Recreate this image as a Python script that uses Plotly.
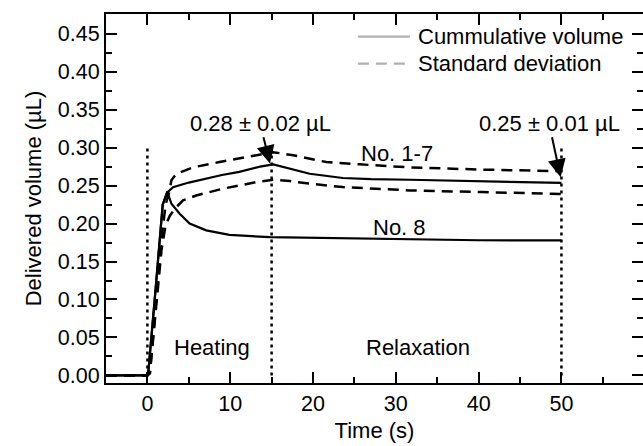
import plotly.graph_objects as go

# ---- data ----
t_mean = [-5, 0, 0.1, 0.5, 1.0, 1.5, 1.85, 2.4, 3.1, 5.0, 7.1, 9.0, 11.1, 13.6, 15.2, 17.2, 19.6, 23.6, 27.0, 31.7, 40.0, 50.0]
v_mean = [0, 0, 0.003, 0.05, 0.115, 0.18, 0.225, 0.241, 0.248, 0.254, 0.259, 0.264, 0.268, 0.275, 0.278, 0.272, 0.2656, 0.260, 0.2585, 0.2577, 0.2555, 0.2535]

t_no8 = [-5, 0, 0.1, 0.5, 1.0, 1.5, 1.85, 2.4, 2.9, 3.9, 5.1, 7.1, 9.9, 14.8, 20.0, 31.7, 40.0, 50.0]
v_no8 = [0, 0, 0.003, 0.05, 0.115, 0.18, 0.225, 0.242, 0.226, 0.213, 0.200, 0.191, 0.185, 0.182, 0.181, 0.1787, 0.178, 0.1778]

t_upper = [-5, 0, 0.3, 0.7, 1.2, 1.7, 2.2, 2.6, 2.9, 3.5, 5.5, 8.7, 13.2, 15.2, 17.6, 21.6, 25.6, 31.7, 40.5, 50.0]
v_upper = [0, 0, 0.003, 0.05, 0.115, 0.18, 0.225, 0.240, 0.257, 0.2656, 0.274, 0.281, 0.290, 0.294, 0.290, 0.281, 0.278, 0.274, 0.271, 0.269]

t_lower = [-5, 0, 0.3, 0.7, 1.2, 1.7, 2.2, 2.7, 3.3, 4.3, 5.9, 9.1, 13.2, 15.2, 17.2, 19.6, 23.6, 31.7, 40.5, 50.0]
v_lower = [0, 0, 0.003, 0.05, 0.11, 0.165, 0.198, 0.210, 0.2195, 0.2305, 0.237, 0.2459, 0.2546, 0.2577, 0.256, 0.2525, 0.248, 0.2437, 0.2414, 0.239]

phase_times = [0, 15, 50]
phase_span = [0, 0.30]
phase_labels = ["Heating", "Relaxation"]
phase_label_t = [7.85, 32.7]
phase_label_v = 0.037

curve_labels = ["No. 1-7", "No. 8"]
curve_label_t = [30.1, 30.4]
curve_label_v = [0.292, 0.195]

value_texts = ["0.28 ± 0.02 µL", "0.25 ± 0.01 µL"]
value_text_t = [13.6, 48.5]
value_text_v = 0.332
arrow_tip_t = [14.8, 49.9]
arrow_tip_v = [0.279, 0.261]

legend_names = ["Cummulative volume", "Standard deviation"]
legend_dash = ["solid", "11px,7px"]
legend_rows_y = [0.9385, 0.8653]   # paper y of the two legend rows

x_range = [-5, 59.85]
y_range = [-0.01, 0.476]

FONT = "Liberation Sans, Arial, sans-serif"
FS = 22
TFS = 21.5

fig = go.Figure()
fig.add_trace(go.Scatter(x=t_mean, y=v_mean, mode="lines", name=legend_names[0],
                         line=dict(color="black", width=2.2)))
fig.add_trace(go.Scatter(x=t_no8, y=v_no8, mode="lines", name="No. 8",
                         line=dict(color="black", width=2.2)))
fig.add_trace(go.Scatter(x=t_upper, y=v_upper, mode="lines", name=legend_names[1],
                         line=dict(color="black", width=2.5, dash="11px,7px")))
fig.add_trace(go.Scatter(x=t_lower, y=v_lower, mode="lines", name=legend_names[1],
                         line=dict(color="black", width=2.5, dash="11px,7px")))
for t in phase_times:
    fig.add_trace(go.Scatter(x=[t, t], y=phase_span, mode="lines", hoverinfo="skip",
                             line=dict(color="black", width=2.5, dash="3px,4px")))

# legend drawn in the top-right corner of the plot
for name, dash, ry in zip(legend_names, legend_dash, legend_rows_y):
    fig.add_shape(type="line", xref="paper", yref="paper", x0=0.469, x1=0.566, y0=ry, y1=ry,
                  line=dict(color="black", width=2.3, dash=dash))
    fig.add_annotation(x=0.577, y=ry, xref="paper", yref="paper", text=name, showarrow=False,
                       xanchor="left", yanchor="middle",
                       font=dict(family=FONT, size=FS, color="black"))

for txt, t in zip(phase_labels, phase_label_t):
    fig.add_annotation(x=t, y=phase_label_v, text=txt, showarrow=False,
                       font=dict(family=FONT, size=FS, color="black"))
for txt, t, v in zip(curve_labels, curve_label_t, curve_label_v):
    fig.add_annotation(x=t, y=v, text=txt, showarrow=False,
                       font=dict(family=FONT, size=FS, color="black"))
for txt, t, tt, tv in zip(value_texts, value_text_t, arrow_tip_t, arrow_tip_v):
    fig.add_annotation(x=tt, y=tv, ax=t, ay=value_text_v, axref="x", ayref="y", text=txt,
                       showarrow=True, arrowhead=2, arrowsize=1.8, arrowwidth=2,
                       arrowcolor="black", standoff=0,
                       font=dict(family=FONT, size=FS, color="black"))

fig.update_layout(
    template="simple_white",
    width=643, height=446,
    margin=dict(l=106, r=0, t=14, b=63, autoexpand=False),
    font=dict(family=FONT, size=FS, color="black"),
    showlegend=False,
    xaxis=dict(range=x_range, dtick=10, tick0=0, showline=True, mirror="ticks",
               linecolor="black", linewidth=2, automargin=False,
               ticks="inside", tickcolor="black", tickwidth=2, ticklen=11,
               tickfont=dict(family=FONT, size=TFS, color="black"),
               title=dict(text="\u00a0" * 9 + "Time (s)", standoff=8,
                          font=dict(family=FONT, size=FS, color="black")),
               minor=dict(ticks="inside", dtick=5, ticklen=6, tickwidth=2, tickcolor="black")),
    yaxis=dict(range=y_range, dtick=0.05, tick0=0, tickformat=".2f", showline=True, mirror="ticks",
               linecolor="black", linewidth=2, automargin=False,
               ticks="inside", tickcolor="black", tickwidth=2, ticklen=11,
               tickfont=dict(family=FONT, size=TFS, color="black"),
               title=dict(text="Delivered volume (µL)", standoff=10,
                          font=dict(family=FONT, size=FS, color="black")),
               minor=dict(ticks="inside", dtick=0.025, ticklen=6, tickwidth=2, tickcolor="black")),
)

fig.write_html("out.html")
